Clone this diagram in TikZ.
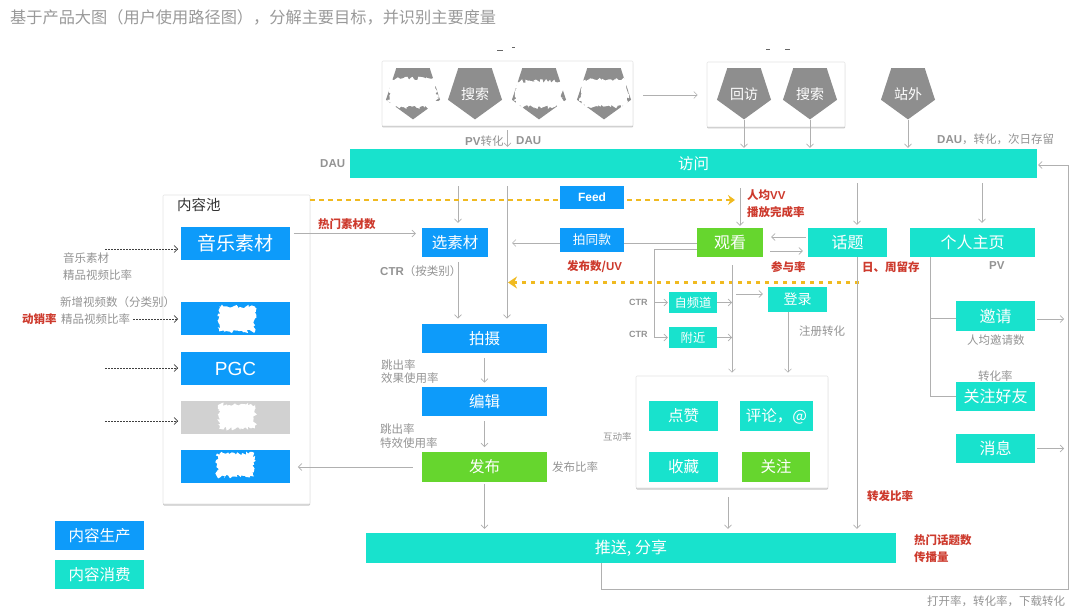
\documentclass[tikz,border=0pt]{standalone}
\usepackage{fontspec}
\usepackage{xcolor}
\setmainfont{Noto Sans CJK SC}
\newfontfamily\latinfont{Liberation Sans}
\newcommand{\la}[1]{{\latinfont #1}}
\newcommand{\fs}[1]{\fontsize{#1}{#1}\selectfont}
\newcommand{\low}[1]{\raisebox{-8.5pt}[0pt][0pt]{#1}}
\definecolor{prodblue}{RGB}{13,155,250}
\definecolor{viewteal}{RGB}{24,226,205}
\definecolor{actgreen}{RGB}{102,214,46}
\definecolor{hotred}{RGB}{205,58,45}
\definecolor{flowgold}{RGB}{240,186,32}
\definecolor{penta}{RGB}{142,142,142}
\usetikzlibrary{shapes, positioning, shadows, arrows.meta, decorations.pathmorphing}

\begin{document}
\begin{tikzpicture}[->, >={Straight Barb[length=3.5pt,width=7pt]}, x=1pt, y=-1pt]
  \useasboundingbox (0,0) rectangle (1080,612);
  \pgfmathsetseed{7}

  % Set the node styles
  \tikzset{
    panel/.style={draw=black!10, fill=white, rounded corners=1pt, line width=.6pt,
      general shadow={fill=black!22, shadow xshift=0pt, shadow yshift=-1.5pt}},
    stepbox/.style={fill=#1, text=white, inner sep=0, font=\fs{15.5}},
    pentanode/.style={regular polygon, regular polygon sides=5, shape border rotate=180,
      minimum size=56.8pt, inner sep=0, fill=penta, text=white, font=\fs{14}},
    blob/.style={fill=white, inner sep=0, decorate,
      decoration={random steps, segment length=1.6pt, amplitude=1.9pt}},
    link/.style={draw=gray!62, line width=.6pt},
    plainlink/.style={link, -},
    dotlink/.style={draw=black!75, line width=.6pt, dash pattern=on 1.6pt off 1.4pt, shorten >=3pt},
    goldlink/.style={draw=flowgold, dash pattern=on 4.5pt off 4.5pt},
    metric/.style={text=gray!85, inner sep=0, anchor=west, font=\fs{11.5}},
    hot/.style={text=hotred, inner sep=0, anchor=west, font=\fs{11.5}\bfseries}
  }

  % Draw the white panels
  \node[panel, minimum width=251pt, minimum height=65pt] (entrybox) at (507.5,93.5) {};
  \node[panel, minimum width=138pt, minimum height=65pt] (backbox) at (776,94.5) {};
  \node[panel, minimum width=147pt, minimum height=309pt] (pool) at (236.5,349.5) {};
  \node[panel, minimum width=192pt, minimum height=112pt] (actbox) at (732,432) {};

  % Draw the entry pentagons
  \foreach \i/\px/\element in {p1/413/{},p2/475/搜索,p3/539/{},p4/604/{},revisit/744/回访,search/810/搜索,outside/908/站外}{
    \node[pentanode] (\i) at (\px,91) {\low{\element}};
  }

  % Draw the wide bands
  \node[stepbox=viewteal, minimum width=687pt, minimum height=29pt] (visit) at (693.5,163.5) {访问};
  \node[stepbox=viewteal, minimum width=530pt, minimum height=30pt, font=\fs{16}] (push) at (631,548) {推送, 分享};

  % Draw the content pool boxes
  \node[inner sep=0, font=\fs{14.5}, text=black!80, anchor=west] (pooltitle) at (177,205) {内容池};
  \foreach \i/\py/\clr/\element in {music/243.5/prodblue/音乐素材,ugc/319/prodblue/{},pgc/368.5/prodblue/\la{PGC},grey/417.5/black!18/{},own/466.5/prodblue/{}}{
    \node[stepbox=\clr, minimum width=108.5pt, minimum height=33pt, font=\fs{19}] (\i) at (235.5,\py) {\element};
  }

  % Draw the production path
  \node[stepbox=prodblue, minimum width=64pt, minimum height=23pt, font=\fs{12}\bfseries] (feed) at (592,197.5) {\la{Feed}};
  \node[stepbox=prodblue, minimum width=64pt, minimum height=24pt, font=\fs{12.7}] (same) at (592,240) {拍同款};
  \node[stepbox=prodblue, minimum width=66pt, minimum height=29pt] (pick) at (455,242.5) {选素材};
  \foreach \i/\py/\clr/\element in {shoot/338.5/prodblue/拍摄,edit/401.5/prodblue/编辑,publish/467/actgreen/发布}{
    \node[stepbox=\clr, minimum width=125pt, minimum height=29.5pt] (\i) at (484.5,\py) {\element};
  }

  % Draw the viewing path
  \node[stepbox=actgreen, minimum width=66pt, minimum height=29pt, font=\fs{16}] (watch) at (730,242.5) {观看};
  \node[stepbox=viewteal, minimum width=79pt, minimum height=29pt, font=\fs{16}] (topic) at (847.5,242.5) {话题};
  \node[stepbox=viewteal, minimum width=125pt, minimum height=29pt, font=\fs{16}] (page) at (972.5,242.5) {个人主页};
  \node[stepbox=viewteal, minimum width=48pt, minimum height=21pt, font=\fs{12.3}] (channel) at (693,302.5) {自频道};
  \node[stepbox=viewteal, minimum width=48pt, minimum height=21pt, font=\fs{12.3}] (nearby) at (693,337.5) {附近};
  \node[stepbox=viewteal, minimum width=59pt, minimum height=25pt, font=\fs{14}] (login) at (797.5,299.5) {登录};
  \node[stepbox=viewteal, minimum width=69pt, minimum height=30pt] (like) at (683.5,416) {点赞};
  \node[stepbox=viewteal, minimum width=73pt, minimum height=30pt] (comment) at (776.5,416) {评论，@};
  \node[stepbox=viewteal, minimum width=69pt, minimum height=30pt] (save) at (683.5,467) {收藏};
  \node[stepbox=actgreen, minimum width=68pt, minimum height=30pt] (follow) at (776,467) {关注};
  \node[stepbox=viewteal, minimum width=79pt, minimum height=30pt, font=\fs{16}] (invite) at (995.5,316) {邀请};
  \node[stepbox=viewteal, minimum width=79pt, minimum height=29pt, font=\fs{16}] (friend) at (995.5,396.5) {关注好友};
  \node[stepbox=viewteal, minimum width=79pt, minimum height=29pt, font=\fs{16}] (msg) at (995.5,448.5) {消息};

  % Draw the legend
  \node[stepbox=prodblue, minimum width=89pt, minimum height=29pt] (legprod) at (99.5,535.5) {内容生产};
  \node[stepbox=viewteal, minimum width=89pt, minimum height=29pt] (legview) at (99.5,574.5) {内容消费};

  % Draw the scribbled out parts
  \foreach \i/\px/\py/\w/\h in {b1/413/93/48/29,b2/539/94/47/26,b3/604/93/47/27,b4/237/319/36/25,b5/237/416.5/36/24,b6/235.5/465/37/23}{
    \node[blob, minimum width=\w pt, minimum height=\h pt] (\i) at (\px,\py) {};
  }
  \foreach \i/\px/\py/\w in {s1/500/51/6,s2/513/48/3,s3/768/50/4,s4/787/50/5}{
    \node[fill=black!60, inner sep=0, minimum width=\w pt, minimum height=1pt] (\i) at (\px,\py) {};
  }

  % Place the rails
  \coordinate (pickrail) at (458,0);
  \coordinate (shootrail) at (507,0);
  \coordinate (watchrail) at (740,0);
  \coordinate (mainrail) at (732,0);
  \coordinate (loginrail) at (788,0);
  \coordinate (actrail) at (728,0);
  \coordinate (topicrail) at (857,0);
  \coordinate (pagerail) at (982,0);
  \coordinate (pushrail) at (601,0);
  \coordinate (siderail) at (654,0);
  \coordinate (branchrail) at (930,0);
  \coordinate (backrail) at (1068,589);

  % Connect the top row
  \draw[link, shorten <=10pt, shorten >=9pt] ([yshift=-1.5pt]entrybox.east) -- ([yshift=-1.5pt]entrybox.east -| backbox.west);
  \draw[link, shorten <=4pt, shorten >=2pt] (entrybox.south) -- (entrybox.south |- visit.north);
  \foreach \i in {revisit,search,outside}{
    \draw[link, shorten >=1pt] (\i.south) -- (\i.south |- visit.north);
  }

  % Connect the band to the path below
  \draw[link, shorten <=8pt, shorten >=5pt] (visit.south -| pickrail) -- (pickrail |- pick.north);
  \draw[link, shorten <=8pt, shorten >=5pt] (visit.south -| shootrail) -- (shootrail |- shoot.north);
  \draw[link, shorten <=10pt, shorten >=2pt] (visit.south -| watchrail) -- (watchrail |- watch.north);
  \draw[link, shorten <=5pt, shorten >=3pt] (visit.south -| topicrail) -- (topicrail |- topic.north);
  \draw[link, shorten <=5pt, shorten >=5pt] (visit.south -| pagerail) -- (pagerail |- page.north);

  % Connect the content pool
  \coordinate (src1) at (105,249);
  \coordinate (src2) at (133,319);
  \coordinate (src3) at (105,368);
  \coordinate (src4) at (105,421);
  \draw[dotlink] (src1) -- (src1 -| music.west);
  \draw[dotlink] (src2) -- (src2 -| ugc.west);
  \draw[dotlink] (src3) -- (src3 -| pgc.west);
  \draw[dotlink] (src4) -- (src4 -| grey.west);
  \draw[link, shorten <=4pt, shorten >=6pt] ([yshift=10pt]music.east) -- ([yshift=9pt]pick.west);
  \draw[link, shorten <=9pt, shorten >=8pt] (publish.west) -- (publish.west -| own.east);

  % Connect the production path
  \draw[link, shorten <=5pt, shorten >=5pt] (pick.south -| pickrail) -- (pickrail |- shoot.north);
  \draw[link, shorten <=5pt, shorten >=4pt] (shoot) -- (edit);
  \draw[link, shorten <=5pt, shorten >=5pt] (edit) -- (publish);
  \draw[link, shorten <=2pt, shorten >=4pt] (publish) -- (publish |- push.north);
  \draw[plainlink] ([yshift=-.5pt]watch.west) -- ([yshift=-3pt]same.east);
  \draw[link, shorten >=5pt] ([yshift=-3pt]same.west) -- ([yshift=-3pt]same.west -| shootrail);

  % Draw the gold flows
  \coordinate (goldin) at (735,200);
  \coordinate (goldback) at (859,282.5);
  \coordinate (goldout) at (508,282.5);
  \draw[goldlink, line width=1.8pt, -] (pool.east |- goldin) -- (feed.west |- goldin);
  \draw[goldlink, line width=1.8pt, shorten <=3pt, -{Stealth[length=7pt,width=10pt]}] (feed.east |- goldin) -- (goldin);
  \draw[goldlink, line width=2.4pt, -{Stealth[length=9pt,width=12pt]}] (goldback) -- (goldout);

  % Connect the viewing path
  \draw[link, shorten <=2pt, shorten >=8pt] ([yshift=5.5pt]topic.west) -- ([yshift=5.5pt]watch.east);
  \draw[link, shorten <=7pt, shorten >=5pt] ([yshift=-8.5pt]watch.east) -- ([yshift=-8.5pt]topic.west);
  \draw[plainlink] ([yshift=-6.5pt]watch.west) -- ([yshift=-6.5pt]watch.west -| siderail) -- (siderail |- nearby.west);
  \draw[link, shorten >=1pt] (siderail |- channel.west) -- (channel.west);
  \draw[link, shorten >=1pt] (siderail |- nearby.west) -- (nearby.west);
  \draw[link] (channel.east) -- (channel.east -| mainrail);
  \draw[link] (nearby.east) -- (nearby.east -| mainrail);
  \draw[link, shorten <=8pt, shorten >=3pt] (watch.south -| mainrail) -- (mainrail |- actbox.north);
  \draw[link, shorten <=4pt, shorten >=5pt] ([yshift=5.5pt]login.west -| mainrail) -- ([yshift=5.5pt]login.west);
  \draw[link, shorten >=3pt] (login.south -| loginrail) -- (loginrail |- actbox.north);
  \draw[link, shorten <=9pt, shorten >=4pt] (actbox.south -| actrail) -- (actrail |- push.north);
  \draw[link, shorten >=4pt] (topic.south -| topicrail) -- (topicrail |- push.north);

  % Connect the personal page
  \draw[plainlink] (page.south -| branchrail) -- (branchrail |- friend.west) -- (friend.west);
  \draw[plainlink] ([yshift=-2pt]invite.west -| branchrail) -- ([yshift=-2pt]invite.west);
  \draw[link, shorten <=2pt, shorten >=4pt] ([yshift=-3pt]invite.east) -- ([yshift=-3pt]invite.east -| backrail);
  \draw[link, shorten <=2pt, shorten >=4pt] (msg.east) -- (msg.east -| backrail);

  % Draw the return line
  \draw[link] (push.south -| pushrail) -- (pushrail |- backrail) -- (backrail) |- ([xshift=1pt,yshift=-1.5pt]visit.east);

  % Draw the labels
  \node[inner sep=0, anchor=west, text=gray!80, font=\fs{16.2}] (headline) at (10,17) {基于产品大图（用户使用路径图），分解主要目标，并识别主要度量};
  \foreach \i/\px/\py/\element in {
    m1/320/164/{\bfseries\la{DAU}},
    m2/465/141/{{\bfseries\la{PV}}转化},
    m3/516/141/{\bfseries\la{DAU}},
    m4/937/139/{{\bfseries\la{DAU}}，转化，次日存留},
    m5/63/258/音乐素材,
    m6/63/275/精品视频比率,
    m7/60/302/新增视频数（分类别）,
    m8/61/319/精品视频比率,
    m9/380/271/{{\bfseries\la{CTR}}（按类别）},
    m10/381/365/跳出率,
    m11/381/378/效果使用率,
    m12/380/429/跳出率,
    m13/380/443/特效使用率,
    m14/552/467/发布比率,
    m15/799/331/注册转化,
    m16/989/266/{\bfseries\la{PV}},
    m17/967/340/人均邀请数,
    m18/978/376/转化率,
    m19/927/601/打开率，转化率，下载转化}{
    \node[metric] (\i) at (\px,\py) {\element};
  }
  \foreach \i/\py in {c1/302,c2/334}{
    \node[metric, font=\fs{9}\bfseries] (\i) at (629,\py) {\la{CTR}};
  }
  \node[metric, font=\fs{9.5}] (rate) at (603,437) {互动率};
  \foreach \i/\px/\py/\element in {
    h1/22/319/动销率,
    h2/318/224/热门素材数,
    h3/567/267/{发布数/\la{UV}},
    h4/747/195/{人均\la{VV}},
    h5/747/212/播放完成率,
    h6/771/267/参与率,
    h7/862/267/日、周留存,
    h8/867/496/转发比率,
    h9/914/540/热门话题数,
    h10/914/557/传播量}{
    \node[hot] (\i) at (\px,\py) {\element};
  }
\end{tikzpicture}
\end{document}
